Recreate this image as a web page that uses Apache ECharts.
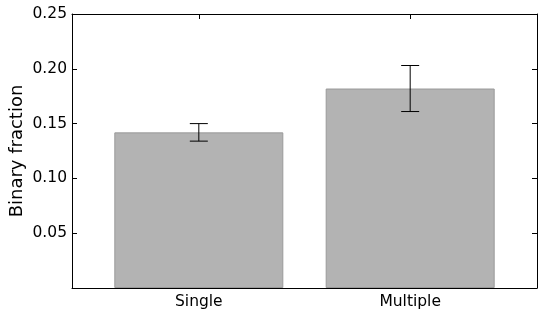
<!DOCTYPE html>
<html>
<head>
<meta charset="utf-8">
<script src="https://cdn.jsdelivr.net/npm/echarts@6/dist/echarts.min.js"></script>
<style>html,body{margin:0;padding:0;background:#fff;}#c{width:545px;height:318px;}</style>
</head>
<body>
<div id="c"></div>
<script>
var categories = ['Single', 'Multiple'];
var values = [0.142, 0.182];
var errLow = [0.134, 0.161];
var errHigh = [0.150, 0.203];
var yTicks = [0.05, 0.10, 0.15, 0.20, 0.25];
var yLabel = 'Binary fraction';

var font = 'DejaVu Sans';
var chart = echarts.init(document.getElementById('c'), null, {renderer: 'canvas'});
var pos = categories.map(function (c, i) { return i; });

var axisLineStyle = {color: '#000', width: 1};
var tickStyle = {show: true, inside: true, length: 5, lineStyle: {color: '#000', width: 1}};

chart.setOption({
  animation: false,
  backgroundColor: '#fff',
  grid: {left: 72, right: 8, top: 14, bottom: 30, show: false, containLabel: false, outerBoundsMode: 'none'},
  xAxis: [{
    type: 'value', min: -0.6, max: 1.6, position: 'bottom',
    axisLine: {show: true, onZero: false, lineStyle: axisLineStyle},
    axisTick: Object.assign({customValues: pos}, tickStyle),
    axisLabel: {customValues: pos, formatter: function (v) { return categories[Math.round(v)]; },
      color: '#000', fontFamily: font, fontSize: 15.5, margin: 6},
    splitLine: {show: false}
  }, {
    type: 'value', min: -0.6, max: 1.6, position: 'top',
    axisLine: {show: true, onZero: false, lineStyle: axisLineStyle},
    axisTick: Object.assign({customValues: pos}, tickStyle),
    axisLabel: {show: false},
    splitLine: {show: false}
  }],
  yAxis: [{
    type: 'value', min: 0, max: 0.25, interval: 0.05, position: 'left',
    name: yLabel, nameLocation: 'middle', nameGap: 46, nameRotate: 90, nameMoveOverlap: false,
    nameTextStyle: {color: '#000', fontFamily: font, fontSize: 18},
    axisLine: {show: true, onZero: false, lineStyle: axisLineStyle},
    axisTick: Object.assign({customValues: yTicks}, tickStyle),
    axisLabel: {customValues: yTicks, formatter: function (v) { return v.toFixed(2); },
      color: '#000', fontFamily: font, fontSize: 15.5, margin: 5},
    splitLine: {show: false}
  }, {
    type: 'value', min: 0, max: 0.25, interval: 0.05, position: 'right',
    axisLine: {show: true, onZero: false, lineStyle: axisLineStyle},
    axisTick: Object.assign({customValues: yTicks}, tickStyle),
    axisLabel: {show: false},
    splitLine: {show: false}
  }],
  series: [{
    type: 'bar',
    data: values.map(function (v, i) { return [pos[i], v]; }),
    barWidth: 169,
    itemStyle: {color: '#b3b3b3', borderColor: '#999999', borderWidth: 1},
    z: 2
  }, {
    type: 'custom',
    z: 5,
    data: pos.map(function (p, i) { return [p, errLow[i], errHigh[i]]; }),
    renderItem: function (params, api) {
      var lo = api.coord([api.value(0), api.value(1)]);
      var hi = api.coord([api.value(0), api.value(2)]);
      var hw = 9;
      var st = {stroke: '#000', lineWidth: 1};
      return {type: 'group', children: [
        {type: 'line', shape: {x1: lo[0], y1: lo[1], x2: hi[0], y2: hi[1]}, style: st},
        {type: 'line', shape: {x1: lo[0] - hw, y1: lo[1], x2: lo[0] + hw, y2: lo[1]}, style: st},
        {type: 'line', shape: {x1: hi[0] - hw, y1: hi[1], x2: hi[0] + hw, y2: hi[1]}, style: st}
      ]};
    }
  }]
});
</script>
</body>
</html>
